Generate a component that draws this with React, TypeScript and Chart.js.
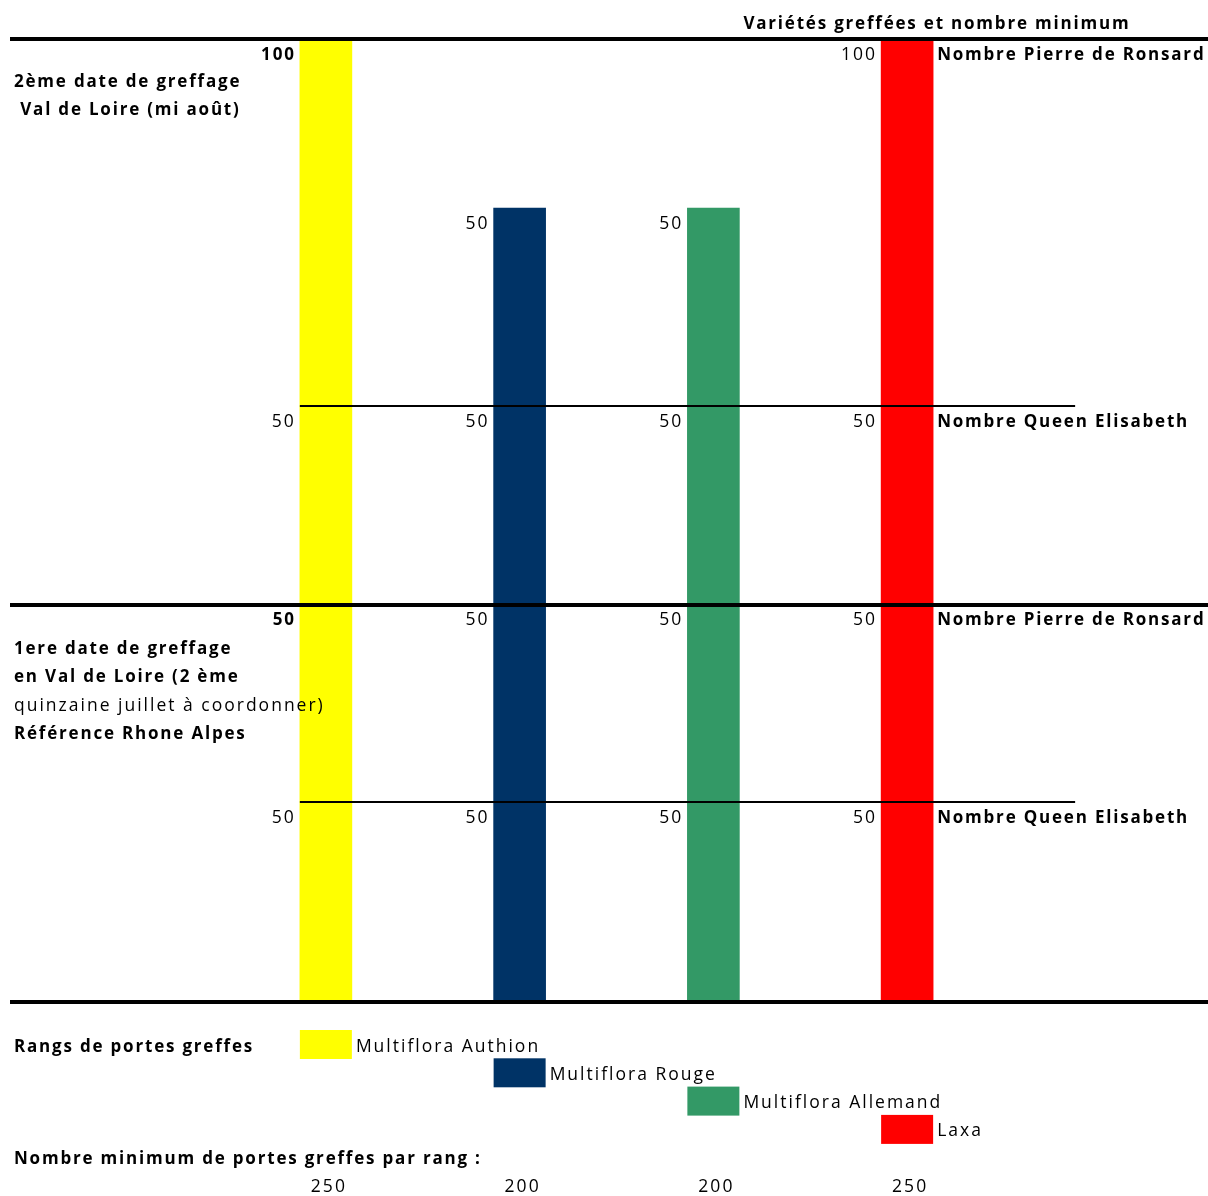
import { useEffect, useRef } from 'react';
import { Chart, registerables } from 'chart.js';

Chart.register(...registerables);

// ---------- data ----------
const rootstocks = ['Multiflora Authion', 'Multiflora Rouge', 'Multiflora Allemand', 'Laxa'];
const minPerRow = [250, 200, 200, 250];
const varieties = ['Queen Elisabeth', 'Pierre de Ronsard'];
const date1QueenElisabeth = [50, 50, 50, 50];
const date1PierreDeRonsard = [50, 50, 50, 50];
const date2QueenElisabeth = [50, 50, 50, 50];
const date2PierreDeRonsard = [100, 50, 50, 100];
const date2Label = ['2ème date de greffage', ' Val de Loire (mi août)'];
const date1Label = ['1ere date de greffage', 'en Val de Loire (2 ème', 'quinzaine juillet à coordonner)', 'Référence Rhone Alpes'];
const chartTitle = 'Variétés greffées et nombre minimum';
const legendTitle = 'Rangs de portes greffes';
const minTitle = 'Nombre minimum de portes greffes par rang :';

// ---------- style ----------
const colors = ['#FFFF00', '#003366', '#339966', '#FF0000'];
const date1Bold = [true, true, false, true];
const W = 1208;
const H = 1196;
const Y_MAX = 242.2;
const FS_BOLD = 17;
const LS_BOLD = 1.8;
const FS_REG = 17.5;
const LS_REG = 2.0;
const FONT = '"Open Sans", "Noto Sans", sans-serif';

const segments = [date1QueenElisabeth, date1PierreDeRonsard, date2QueenElisabeth, date2PierreDeRonsard];

export default function App() {
  const ref = useRef<HTMLCanvasElement | null>(null);

  useEffect(() => {
    document.body.style.margin = '0';
    const canvas = ref.current;
    if (!canvas) return;

    const overlay = {
      id: 'overlay',
      afterDatasetsDraw(chart: any) {
        const { ctx, chartArea } = chart;
        const x = chart.scales.x;
        const y = chart.scales.y;
        const half = 26;
        ctx.save();

        const txt = (s: string, px: number, yb: number, bold: boolean, align: 'left' | 'right' | 'center' = 'left') => {
          const fs = bold ? FS_BOLD : FS_REG;
          const ls = bold ? LS_BOLD : LS_REG;
          ctx.font = `${bold ? 'bold ' : ''}${fs}px ${FONT}`;
          (ctx as any).letterSpacing = ls + 'px';
          ctx.textAlign = align;
          ctx.textBaseline = 'alphabetic';
          ctx.fillStyle = '#000';
          let dx = 0;
          if (align === 'right') dx = ls;
          if (align === 'center') dx = ls / 2;
          ctx.fillText(s, px + dx, yb);
        };

        // lines
        ctx.fillStyle = '#000';
        const lineLeft = 10;
        const lineW = W - lineLeft;
        const p0 = Math.round(y.getPixelForValue(0));
        ctx.fillRect(lineLeft, p0, lineW, 4);
        ctx.fillRect(lineLeft, chartArea.top - 4, lineW, 4);
        const dateSplit = date1QueenElisabeth[0] + date1PierreDeRonsard[0];
        const pm = Math.round(y.getPixelForValue(dateSplit));
        ctx.fillRect(lineLeft, pm - 1, lineW, 4);
        const thinStart = x.getPixelForValue(0) - half;
        const thinEnd = x.getPixelForValue(rootstocks.length - 1) + 168;
        [date1QueenElisabeth[0], dateSplit + date2QueenElisabeth[0]].forEach((v) => {
          const p = Math.round(y.getPixelForValue(v));
          ctx.fillRect(thinStart, p - 1, thinEnd - thinStart, 2);
        });

        // segment value labels
        const rowBase: number[] = [];
        segments.forEach((seg, k) => {
          seg.forEach((v, i) => {
            let top = 0;
            for (let j = 0; j <= k; j++) top += segments[j][i];
            const p = Math.max(y.getPixelForValue(top), chartArea.top - 2);
            const bold = i === 0 && k % 2 === 1;
            txt(String(v), x.getPixelForValue(i) - half - 6, p + 21, bold, 'right');
            if (i === rootstocks.length - 1) rowBase[k] = p + 21;
          });
        });
        // right variety labels
        segments.forEach((_, k) => {
          txt('Nombre ' + varieties[k % 2], x.getPixelForValue(rootstocks.length - 1) + half + 4, rowBase[k], true);
        });

        // title
        txt(chartTitle, x.getPixelForValue(2) + half + 4, 29, true);

        // left group labels
        date2Label.forEach((s, j) => txt(s, 14, chartArea.top + 46 + j * 27.5, true));
        date1Label.forEach((s, j) => txt(s, 14, pm + 50 + j * 28.3, date1Bold[j]));

        // legend
        const legTop = p0 + 30;
        txt(legendTitle, 14, legTop + 21.5, true);
        rootstocks.forEach((name, i) => {
          const cx = x.getPixelForValue(i);
          const t = legTop + i * 28.3;
          ctx.fillStyle = colors[i];
          ctx.fillRect(cx - half, t, half * 2, 29);
          txt(name, cx + half + 4, t + 21.5, false);
        });

        // minimum per row
        txt(minTitle, 14, p0 + 164, true);
        minPerRow.forEach((v, i) => txt(String(v), x.getPixelForValue(i) + 2, p0 + 192, false, 'center'));

        ctx.restore();
      },
    };

    const chart = new Chart(canvas, {
      type: 'bar',
      data: {
        labels: rootstocks,
        datasets: segments.map((d, k) => ({
          label: (k < 2 ? '1ere date ' : '2ème date ') + varieties[k % 2],
          data: d,
          backgroundColor: colors,
          borderWidth: 0,
          barThickness: 52,
          clip: 0,
        })),
      },
      options: {
        animation: false,
        responsive: false,
        devicePixelRatio: 1,
        layout: { padding: { left: 229, right: 204, top: 41, bottom: 196 } },
        plugins: { legend: { display: false }, tooltip: { enabled: false }, title: { display: false } },
        scales: {
          x: { display: false, stacked: true },
          y: { display: false, stacked: true, min: 0, max: Y_MAX },
        },
      },
      plugins: [overlay],
    });
    return () => chart.destroy();
  }, []);

  return (
    <div style={{ width: W, height: H, background: '#fff' }}>
      <canvas ref={ref} width={W} height={H} style={{ display: 'block', width: W, height: H }} />
    </div>
  );
}
